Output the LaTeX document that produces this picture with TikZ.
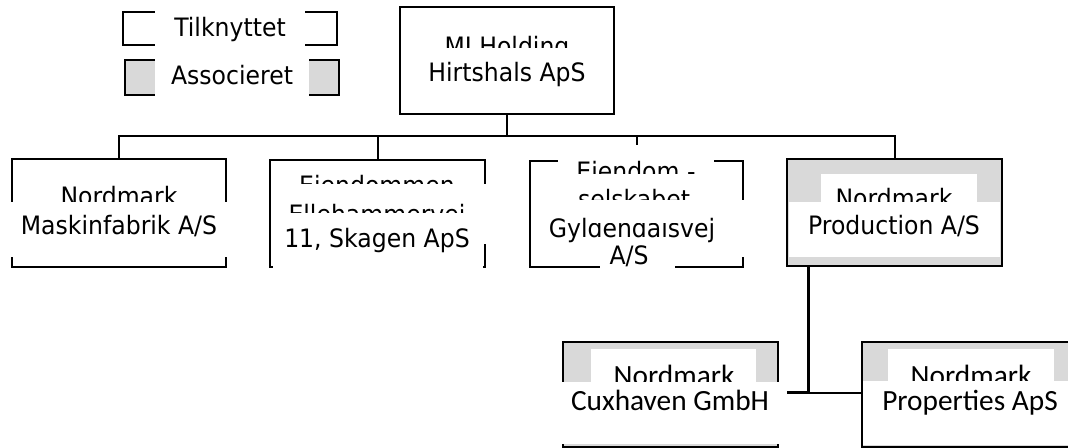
\documentclass[tikz,border=0pt]{standalone}
\usepackage{fontspec}
\newfontfamily\tahfont[FakeStretch=0.93]{DejaVu Sans}
\newfontfamily\calfont{Carlito}
\definecolor{grayfill}{HTML}{D9D9D9}
\newcommand\mkbox[6]{\node[#6, minimum width={(#4-#2)*0.75pt}, minimum height={(#5-#3)*0.75pt}] (#1) at ({(#2+#4)/2},{(#3+#5)/2}) {};}
\begin{document}
\begin{tikzpicture}[x=0.75pt,y=-0.75pt,
  box/.style={draw=black,line width=1.6pt,inner sep=0pt,outer sep=0pt,fill=white},
  gbox/.style={box,fill=grayfill},
  conn/.style={line width=1.5pt},
  thickconn/.style={line width=2.25pt},
  tx/.style={font=\tahfont\fontsize{19}{19}\selectfont,inner sep=0pt,anchor=base},
  cx/.style={font=\calfont\fontsize{22}{22}\selectfont,inner sep=0pt,anchor=base},
  patch/.style={fill=white}]
\useasboundingbox (0,0) rectangle (1068,448);
% boxes
\mkbox{LT}{123}{12}{337}{45}{box}
\mkbox{LA}{125}{60}{339}{95}{gbox}
\mkbox{M}{400}{7}{614}{114}{box}
\mkbox{B1}{12}{159}{226}{267}{box}
\mkbox{B2}{270}{160}{485}{267}{box}
\mkbox{B3}{530}{161}{743}{267}{box}
\mkbox{B4}{787}{159}{1002}{266}{gbox}
\mkbox{B5}{563}{342}{778}{447}{gbox}
\mkbox{B6}{862}{342}{1080}{447}{gbox}
% connectors
\coordinate (bus) at (507,136);
\draw[conn] (M.south) -- (bus);
\draw[conn] (B1.north) |- (bus);
\draw[conn] (B2.north) |- (bus);
\draw[conn] (B3.north) |- (bus);
\draw[conn] (B4.north) |- (bus);
\coordinate (j) at (808,393);
\draw[thickconn] (j |- B4.south) -- (j) -- (j -| B5.east);
\draw[conn] (j) -- (j -| B6.west);
% legend
\fill[patch] (155,4) rectangle (305,53);
\node[tx] (lt) at (230,37) {Tilknyttet};
\fill[patch] (155,54) rectangle (309,101);
\node[tx] (la) at (232,85) {Associeret};
% main
\node[tx] (m1) at (507,56) {MJ Holding};
\fill[patch] (403,48) rectangle (611,104);
\node[tx] (m2) at (507,82) {Hirtshals ApS};
% B1
\node[tx] (b1a) at (119,206) {Nordmark};
\fill[patch] (4,202) rectangle (234,257);
\node[tx] (b1b) at (119,235) {Maskinfabrik A/S};
% B2
\node[tx] (b2a) at (377,195) {Ejendommen};
\fill[patch] (273,184) rectangle (492,213);
\node[tx] (b2b) at (377,224) {Ellehammervej};
\fill[patch] (273,213) rectangle (492,244);
\fill[patch] (273,244) rectangle (483,272);
\node[tx] (b2c) at (377,248) {11, Skagen ApS};
% B3
\fill[patch] (558,145) rectangle (714,174);
\node[tx] (b3a) at (636,181) {Ejendom -};
\fill[patch] (533,174) rectangle (740,200);
\node[tx] (b3b) at (634,209) {selskabet};
\fill[patch] (533,200) rectangle (750,257);
\node[tx] (b3c) at (632,238) {Gyldendalsvej};
\fill[patch] (588,210) rectangle (677,223);
\fill[patch] (600,242) rectangle (675,272);
\node[tx] (b3d) at (629,265) {A/S};
% B4
\fill[patch] (821,174) rectangle (977,202);
\node[tx] (b4a) at (894,208) {Nordmark};
\fill[patch] (789,202) rectangle (1000,257);
\node[tx] (b4b) at (894,235) {Production A/S};
% B5
\fill[patch] (591,349) rectangle (756,382);
\node[cx] (b5a) at (674,386) {Nordmark};
\fill[patch] (555,382) rectangle (787,444);
\node[cx] (b5b) at (670,411) {Cuxhaven GmbH};
% B6
\fill[patch] (888,349) rectangle (1054,381);
\node[cx] (b6a) at (971,386) {Nordmark};
\fill[patch] (863,381) rectangle (1075,445);
\node[cx] (b6b) at (970,411) {Properties ApS};
\end{tikzpicture}
\end{document}
